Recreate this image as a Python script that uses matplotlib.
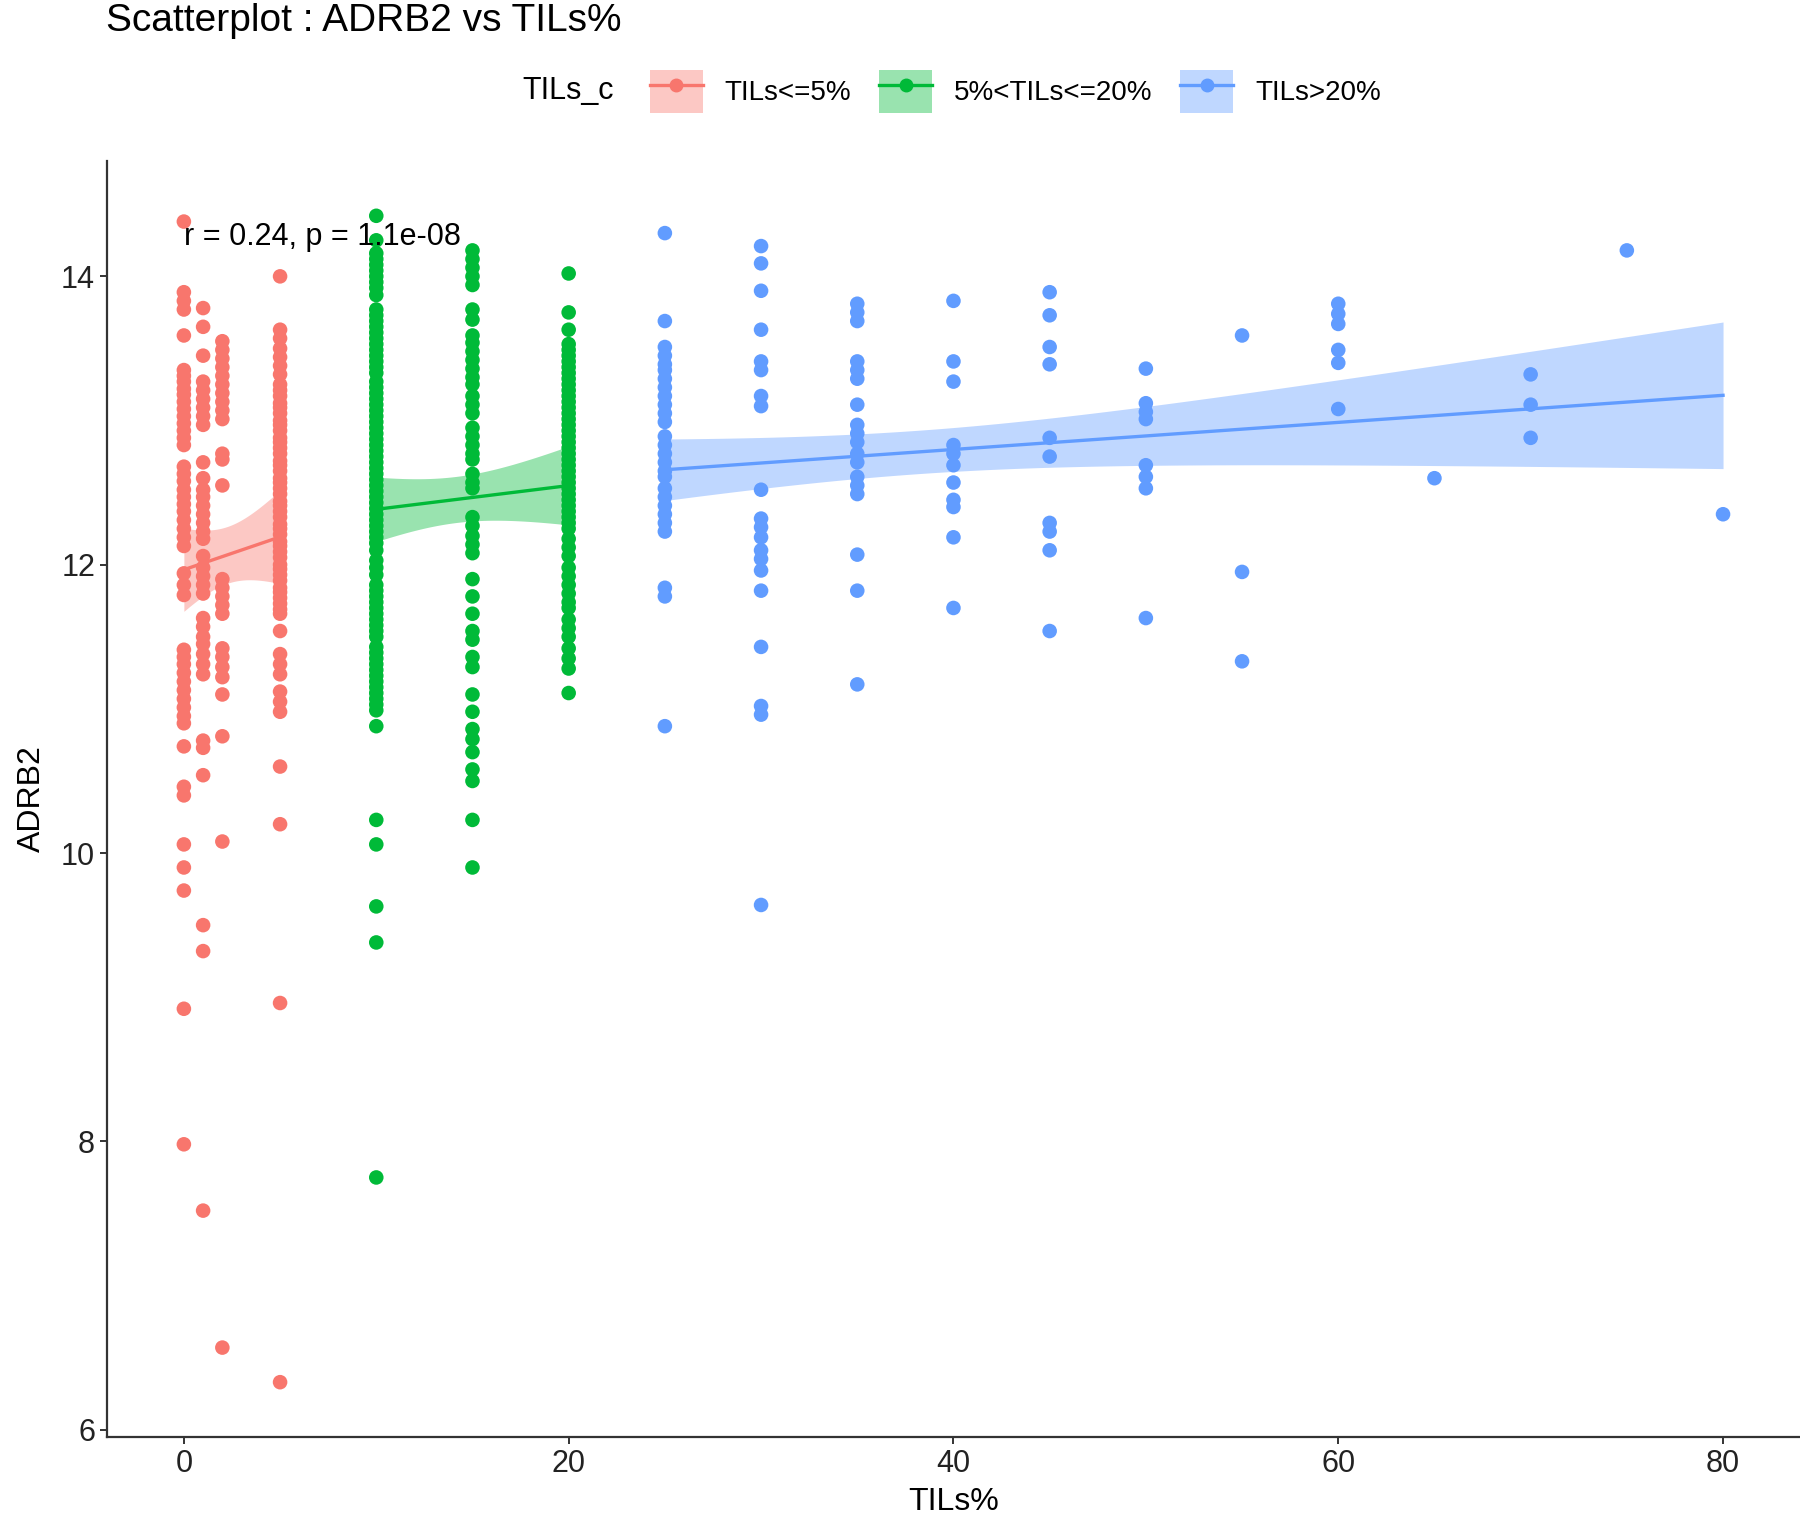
import matplotlib
matplotlib.use("Agg")
import matplotlib.pyplot as plt
import numpy as np
from matplotlib.patches import Patch
from matplotlib.lines import Line2D
from matplotlib.legend_handler import HandlerTuple

# ---- data (TILs% column -> ADRB2 values) ----
red_0 = [14.38, 13.89, 13.83, 13.77, 13.59,
         13.35, 13.31, 13.27, 13.22, 13.18, 13.13, 13.08, 13.03, 12.98, 12.93, 12.88, 12.83,
         12.68, 12.63, 12.58, 12.52, 12.47, 12.42, 12.37, 12.31, 12.25, 12.19, 12.13,
         11.94, 11.86, 11.79,
         11.41, 11.36, 11.31, 11.25, 11.19, 11.13, 11.07, 11.01, 10.95, 10.90,
         10.74, 10.46, 10.40, 10.06, 9.90, 9.74, 8.92, 7.98]
red_1 = [13.78, 13.65, 13.45, 13.27, 13.21, 13.15, 13.09, 13.03, 12.97, 12.71, 12.60,
         12.52, 12.47, 12.41, 12.35, 12.29, 12.23, 12.18, 12.06, 11.98, 11.92, 11.86,
         11.80, 11.63, 11.57, 11.50, 11.45, 11.38, 11.31, 11.24, 10.78, 10.73, 10.54,
         9.50, 9.32, 7.52]
red_2 = [13.55, 13.49, 13.43, 13.37, 13.31, 13.25, 13.19, 13.13, 13.07, 13.01, 12.77,
         12.73, 12.55, 11.90, 11.84, 11.78, 11.72, 11.66, 11.42, 11.36, 11.29, 11.22,
         11.10, 10.81, 10.08, 6.57]
red_5 = [14.00, 13.63, 13.57, 13.50, 13.44, 13.38, 13.32, 13.25,
         13.21, 13.17, 13.12, 13.09, 13.05, 13.00, 12.97, 12.93, 12.88, 12.85, 12.81, 12.77,
         12.72, 12.69, 12.65, 12.60, 12.57, 12.53, 12.49, 12.44, 12.41, 12.37, 12.33, 12.28,
         12.25, 12.21, 12.16, 12.13, 12.09, 12.05, 12.00, 11.97, 11.93, 11.89, 11.84, 11.81,
         11.77, 11.73, 11.69, 11.66,
         11.54, 11.38, 11.31, 11.24, 11.12, 11.05, 10.98, 10.60, 10.20, 8.96, 6.33]

green_10 = [14.42, 14.25,
            14.16, 14.12, 14.08, 14.04, 14.00, 13.96, 13.92, 13.87,
            13.77, 13.73, 13.69, 13.65, 13.61, 13.57, 13.53, 13.49, 13.45, 13.41, 13.37, 13.33,
            13.27, 13.23, 13.19, 13.15, 13.11, 13.07, 13.03, 12.99, 12.95, 12.91, 12.87, 12.83,
            12.79, 12.75, 12.71, 12.67, 12.63, 12.59, 12.55, 12.51, 12.47, 12.43, 12.39, 12.35,
            12.31, 12.27, 12.23, 12.19, 12.15, 12.10,
            12.03, 11.98, 11.93,
            11.86, 11.82, 11.78, 11.74, 11.70, 11.66, 11.62, 11.58, 11.54, 11.50,
            11.43, 11.39, 11.35, 11.31, 11.27, 11.23, 11.19, 11.15, 11.11, 11.07, 11.03, 10.99,
            10.88, 10.23, 10.06, 9.63, 9.38, 7.75]
green_15 = [14.18, 14.12, 14.06, 14.00, 13.94, 13.77, 13.70, 13.59, 13.54, 13.48, 13.42,
            13.36, 13.30, 13.25, 13.17, 13.11, 13.05, 12.95, 12.89, 12.83, 12.77, 12.73,
            12.63, 12.57, 12.53, 12.33, 12.27, 12.20, 12.14, 12.08, 11.90, 11.78, 11.66,
            11.54, 11.48, 11.36, 11.29, 11.10, 10.98, 10.86, 10.79, 10.70, 10.58, 10.50,
            10.23, 9.90]
green_20 = [14.02, 13.75, 13.63,
            13.53, 13.49, 13.45, 13.41, 13.37, 13.33, 13.29, 13.25, 13.21, 13.17, 13.13,
            13.09, 13.05, 13.01, 12.97, 12.93, 12.89, 12.85, 12.81, 12.77, 12.73, 12.69,
            12.65, 12.61, 12.57, 12.53, 12.49, 12.45, 12.41, 12.37, 12.33, 12.29, 12.25,
            12.18, 12.12, 12.06, 11.98, 11.92, 11.86, 11.80, 11.74, 11.70, 11.62, 11.56,
            11.50, 11.42, 11.35, 11.28, 11.11]

blue_25 = [14.30, 13.69, 13.51, 13.45, 13.39, 13.35, 13.29, 13.23, 13.17, 13.11, 13.05,
           12.99, 12.89, 12.83, 12.77, 12.71, 12.65, 12.61, 12.53, 12.47, 12.41, 12.35,
           12.29, 12.23, 11.84, 11.78, 10.88]
blue_30 = [14.21, 14.09, 13.90, 13.63, 13.41, 13.35, 13.17, 13.10, 12.52, 12.32, 12.26,
           12.19, 12.10, 12.04, 11.96, 11.82, 11.43, 11.02, 10.96, 9.64]
blue_35 = [13.81, 13.75, 13.69, 13.41, 13.35, 13.29, 13.11, 12.97, 12.91, 12.85, 12.77,
           12.71, 12.61, 12.55, 12.49, 12.07, 11.82, 11.17]
blue_40 = [13.83, 13.41, 13.27, 12.83, 12.77, 12.69, 12.57, 12.45, 12.40, 12.19, 11.70]
blue_45 = [13.89, 13.73, 13.51, 13.39, 12.88, 12.75, 12.29, 12.23, 12.10, 11.54]
blue_50 = [13.36, 13.12, 13.06, 13.01, 12.69, 12.61, 12.53, 11.63]
blue_55 = [13.59, 11.95, 11.33]
blue_60 = [13.81, 13.74, 13.67, 13.49, 13.40, 13.08]
blue_65 = [12.60]
blue_70 = [13.32, 13.11, 12.88]
blue_75 = [14.18]
blue_80 = [12.35]

group_labels = ['TILs<=5%', '5%<TILs<=20%', 'TILs>20%']
group_columns = [
    [(0, red_0), (1, red_1), (2, red_2), (5, red_5)],
    [(10, green_10), (15, green_15), (20, green_20)],
    [(25, blue_25), (30, blue_30), (35, blue_35), (40, blue_40), (45, blue_45),
     (50, blue_50), (55, blue_55), (60, blue_60), (65, blue_65), (70, blue_70),
     (75, blue_75), (80, blue_80)],
]
annot_text = 'r = 0.24, p = 1.1e-08'

# ---- styling ----
colors = ['#F8766D', '#00BA38', '#619CFF']
axes_color = '#333333'
font_size = 22
plt.rcParams.update({'font.family': ['Liberation Sans', 'DejaVu Sans'],
                     'font.size': font_size})


def column_arrays(columns):
    xs, ys = [], []
    for xv, vals in columns:
        xs.extend([xv] * len(vals))
        ys.extend(vals)
    return np.array(xs, dtype=float), np.array(ys, dtype=float)


def lm_band(x, y, grid, t=1.97):
    n = len(x)
    slope, icpt = np.polyfit(x, y, 1)
    resid = y - (icpt + slope * x)
    s = np.sqrt(np.sum(resid ** 2) / (n - 2))
    se = s * np.sqrt(1.0 / n + (grid - x.mean()) ** 2 / np.sum((x - x.mean()) ** 2))
    fit = icpt + slope * grid
    return fit, fit - t * se, fit + t * se


fig = plt.figure(figsize=(18, 15.19), dpi=100)
ax = fig.add_axes([0.0594, 0.054, 0.9406, 0.84])

for cols, col in zip(group_columns, colors):
    x, y = column_arrays(cols)
    ax.scatter(x, y, s=110, color=col, edgecolors='none', zorder=2)

for cols, col in zip(group_columns, colors):
    x, y = column_arrays(cols)
    grid = np.linspace(x.min(), x.max(), 80)
    fit, lo, hi = lm_band(x, y, grid)
    ax.fill_between(grid, lo, hi, color=col, alpha=0.4, linewidth=0, zorder=3)
    ax.plot(grid, fit, color=col, linewidth=2.4, zorder=4)

ax.text(0.0, 14.27, annot_text, fontsize=font_size, color='black',
        ha='left', va='center', zorder=5)

ax.set_xlim(-4, 84)
ax.set_ylim(5.95, 14.8)
ax.set_xticks([0, 20, 40, 60, 80])
ax.set_yticks([6, 8, 10, 12, 14])

for side in ['top', 'right']:
    ax.spines[side].set_visible(False)
for side in ['left', 'bottom']:
    ax.spines[side].set_color(axes_color)
    ax.spines[side].set_linewidth(1.6)
ax.tick_params(axis='both', colors=axes_color, width=1.4, length=5,
               labelsize=font_size, labelcolor='#222222')

ax.set_xlabel('TILs%', fontsize=font_size + 1, labelpad=6)
ax.set_ylabel('ADRB2', fontsize=font_size + 1, labelpad=10)

fig.text(0.059, 0.986, 'Scatterplot : ADRB2 vs TILs%', fontsize=28,
         ha='left', va='center')

# legend along the top, title on the left like ggplot
fig.text(0.290, 0.940, 'TILs_c', fontsize=font_size, ha='left', va='center')
handles = []
for col in colors:
    box = Patch(facecolor=col, alpha=0.4, edgecolor='none')
    mark = Line2D([], [], color=col, linewidth=2.4, marker='o', markersize=9)
    handles.append((box, mark))
fig.legend(handles, group_labels, loc='center left', bbox_to_anchor=(0.361, 0.940),
           ncol=3, frameon=False, fontsize=font_size - 2, borderpad=0,
           borderaxespad=0, handlelength=1.9, handleheight=2.0,
           handletextpad=0.8, columnspacing=1.0,
           handler_map={tuple: HandlerTuple(ndivide=1, pad=0)})

fig.savefig('out.png', dpi=100)
